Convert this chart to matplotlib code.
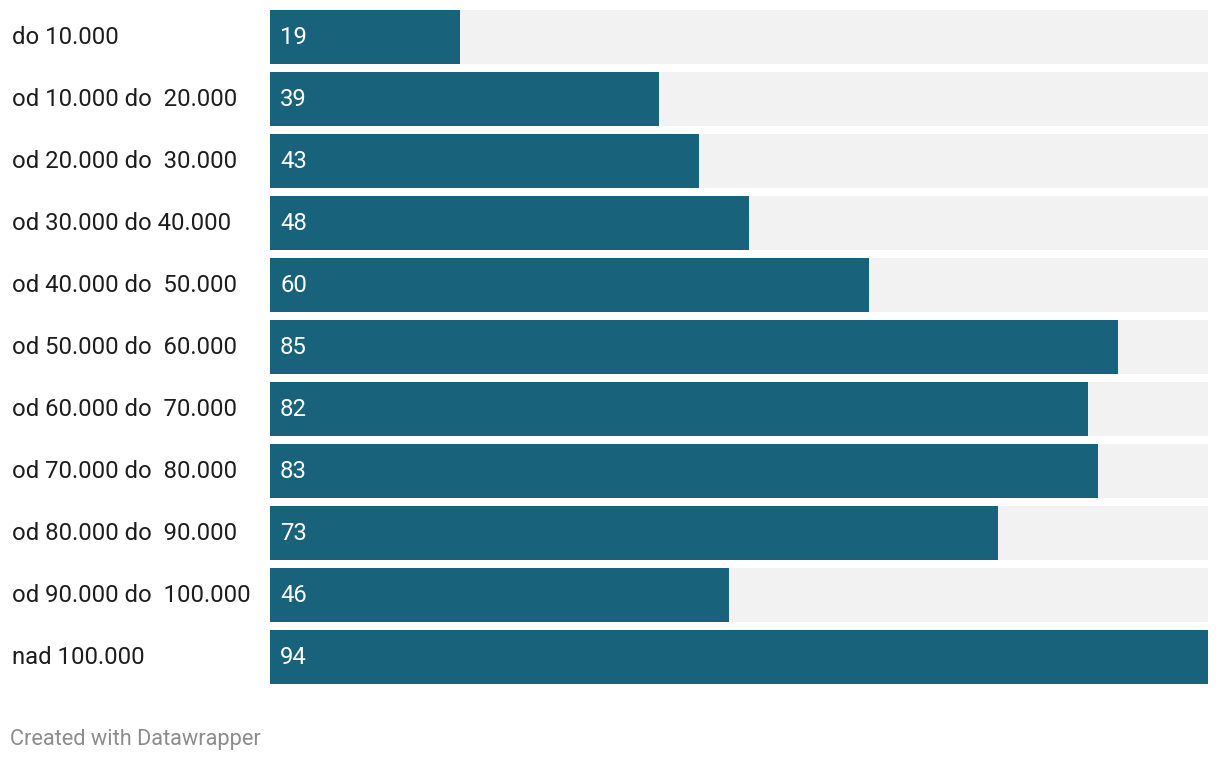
import matplotlib
matplotlib.use("Agg")
import matplotlib.pyplot as plt
from matplotlib.transforms import blended_transform_factory, offset_copy

plt.rcParams['font.family'] = ['Roboto', 'DejaVu Sans']

# dane
categories = [
    "do 10.000",
    "od 10.000 do  20.000",
    "od 20.000 do  30.000",
    "od 30.000 do 40.000",
    "od 40.000 do  50.000",
    "od 50.000 do  60.000",
    "od 60.000 do  70.000",
    "od 70.000 do  80.000",
    "od 80.000 do  90.000",
    "od 90.000 do  100.000",
    "nad 100.000",
]
values = [19, 39, 43, 48, 60, 85, 82, 83, 73, 46, 94]

W, H = 1220, 760
fig = plt.figure(figsize=(W / 100, H / 100), dpi=100)
fig.patch.set_facecolor("white")

# os wykresu w pikselach: x 270..1208, y 6..688 (od gory)
ax = fig.add_axes([270 / W, (H - 688) / H, (1208 - 270) / W, (688 - 6) / H])
ax.set_xlim(0, max(values))
ax.set_ylim(len(values) - 0.5, -0.5)
ax.axis("off")

pos = list(range(len(values)))
bh = 54 / 62
ax.barh(pos, [max(values)] * len(values), height=bh, color="#f2f2f2", linewidth=0)
ax.barh(pos, values, height=bh, color="#18627c", linewidth=0)

lab_tr = offset_copy(blended_transform_factory(fig.transFigure, ax.transData),
                     fig=fig, x=0, y=1.6, units="dots")
val_tr = offset_copy(ax.transData, fig=fig, x=10, y=1.6, units="dots")
for i, (c, v) in enumerate(zip(categories, values)):
    ax.text(12 / W, i, c, transform=lab_tr, ha="left", va="center_baseline",
            fontsize=17.2, color="#1d1d1d")
    ax.text(0, i, str(v), transform=val_tr, ha="left", va="center_baseline",
            fontsize=17.2, color="white")

fig.text(10 / W, 1 - 737 / H, "Created with Datawrapper", ha="left",
         va="center_baseline", fontsize=15.7, color="#8c8c8c")

fig.savefig("out.png", dpi=100, facecolor="white")
